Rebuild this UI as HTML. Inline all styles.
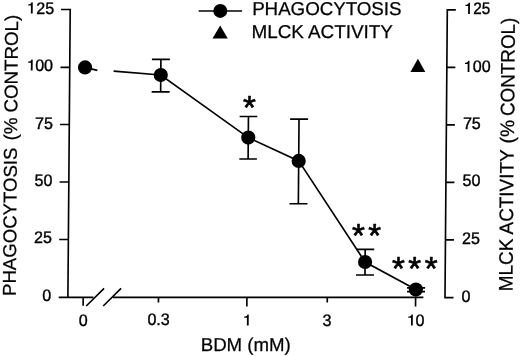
<!DOCTYPE html>
<html><head><meta charset="utf-8">
<style>
html,body{margin:0;padding:0;background:#fff;}
body{width:520px;height:356px;overflow:hidden;}
svg{display:block;filter:grayscale(1) blur(0.35px);}
text{font-family:"Liberation Sans",sans-serif;fill:#000;stroke:#000;stroke-width:0.25px;}
.t{font-size:16.6px;}
.t text{stroke-width:0.4px;}
.l{font-size:18.6px;}
.a{font-size:33.5px;stroke-width:0.6px;stroke-linejoin:round;}
.ln{stroke:#000;stroke-width:1.65;fill:none;}
</style></head><body>
<svg width="520" height="356" viewBox="0 0 520 356">
<rect width="520" height="356" fill="#fff"/>
<g transform="translate(0,297.3) skewX(-0.46) translate(0,-297.3)">
<path class="ln" d="M58.7,9.5H67.9V297.3 M58.7,67.4H67.9 M58.7,124.5H67.9 M58.7,182H67.9 M58.7,239.5H67.9 M58.7,297.3H93.5 M113,297.3H423.4"/>
<path class="ln" d="M453.5,9.8H445V297.6H453.5 M445,67.3H453.5 M445,124.8H453.5 M445,182.3H453.5 M445,239.8H453.5"/>
<path class="ln" d="M83.2,297.3V305.8 M158.5,297.3V302.5 M246.9,297.3V306.4 M327.3,297.3V302.5 M415.6,297.3V306.4"/>
<path class="ln" d="M86.3,306L104,288.3 M103.3,306L121,288.3"/>
<path class="ln" d="M83.2,67.4L95.5,70.4 M111.8,71.1L159,75L247,137.6L297.6,160.9L364.8,262.0L415.8,289.6"/>
<path class="ln" d="M159,59.3V91.9 M150,59.3H168 M150,91.9H168"/>
<path class="ln" d="M247,116.5V159 M238.2,116.5H255.8 M238.2,159H255.8"/>
<path class="ln" d="M297.6,119.1V203.7 M288.7,119.1H306.7 M288.7,203.7H306.7"/>
<path class="ln" d="M364.8,249.3V275 M355.8,249.3H373.8 M355.8,275H373.8"/>
<path class="ln" d="M407,287.8H425 M407,291.6H425"/>
<g fill="#000">
<circle cx="83.2" cy="67.4" r="7.1"/>
<circle cx="159" cy="75" r="7.1"/>
<circle cx="247" cy="137.6" r="7.1"/>
<circle cx="297.6" cy="160.9" r="7.1"/>
<circle cx="364.8" cy="262.0" r="7.1"/>
<circle cx="415.8" cy="289.6" r="7.1"/>
<path d="M408.6,71.9L416.0,58.7L423.5,71.9Z"/>
</g>
<path class="ln" d="M196.4,11H239.8"/>
<circle cx="218" cy="10.9" r="7.0" fill="#000"/>
<path d="M210.4,38.5L218,25.6L225.7,38.5Z" fill="#000"/>
<text class="l" x="249.9" y="15.2" textLength="149.3" lengthAdjust="spacingAndGlyphs">PHAGOCYTOSIS</text>
<text class="l" x="249.5" y="37.8" textLength="141.2" lengthAdjust="spacingAndGlyphs">MLCK ACTIVITY</text>
<g class="t">
<path transform="translate(28.6,13.5)" d="M0,0H1.8V-11.2H0.55C0.3,-9.7 -0.9,-9.15 -2.7,-9.1V-7.9H0Z" fill="#000"/>
<text transform="translate(51.8,13.5) scale(0.965,1)" text-anchor="end">25</text>
<path transform="translate(29.0,70.6)" d="M0,0H1.8V-11.2H0.55C0.3,-9.7 -0.9,-9.15 -2.7,-9.1V-7.9H0Z" fill="#000"/>
<text transform="translate(51.2,70.6) scale(0.965,1)" text-anchor="end">00</text>
<text transform="translate(51.5,128.7) scale(0.965,1)" text-anchor="end">75</text>
<text transform="translate(51.5,186.0) scale(0.965,1)" text-anchor="end">50</text>
<text transform="translate(51.4,243.2) scale(0.965,1)" text-anchor="end">25</text>
<text transform="translate(51.3,300.5) scale(0.965,1)" text-anchor="end">0</text>
<path transform="translate(465.8,13.9)" d="M0,0H1.8V-11.2H0.55C0.3,-9.7 -0.9,-9.15 -2.7,-9.1V-7.9H0Z" fill="#000"/>
<text transform="translate(471.0,13.9) scale(0.915,1)" text-anchor="start">25</text>
<path transform="translate(465.8,71.9)" d="M0,0H1.8V-11.2H0.55C0.3,-9.7 -0.9,-9.15 -2.7,-9.1V-7.9H0Z" fill="#000"/>
<text transform="translate(471.0,71.9) scale(0.965,1)" text-anchor="start">00</text>
<text transform="translate(461.6,129.4) scale(0.965,1)" text-anchor="start">75</text>
<text transform="translate(461.6,186.1) scale(0.965,1)" text-anchor="start">50</text>
<text transform="translate(461.6,244.0) scale(0.965,1)" text-anchor="start">25</text>
<text transform="translate(461.6,301.6) scale(0.965,1)" text-anchor="start">0</text>
<text transform="translate(83.4,326.0) scale(0.965,1)" text-anchor="middle">0</text>
<text transform="translate(158.8,325.2) scale(0.965,1)" text-anchor="middle">0.3</text>
<path transform="translate(247.1,325.6)" d="M0,0H1.8V-11.2H0.55C0.3,-9.7 -0.9,-9.15 -2.7,-9.1V-7.9H0Z" fill="#000"/>
<text transform="translate(327.3,325.8) scale(0.965,1)" text-anchor="middle">3</text>
<path transform="translate(411.2,325.6)" d="M0,0H1.8V-11.2H0.55C0.3,-9.7 -0.9,-9.15 -2.7,-9.1V-7.9H0Z" fill="#000"/>
<text transform="translate(420.2,325.6) scale(0.965,1)" text-anchor="middle">0</text>
</g>
<text class="l" x="201.2" y="350.8">BDM (mM)</text>
<text class="l" transform="translate(15.7,296) rotate(-90)">PHAGOCYTOSIS</text>
<text class="l" transform="translate(15.8,140.5) rotate(-90)" textLength="23.1" lengthAdjust="spacingAndGlyphs">(%</text>
<text class="l" transform="translate(15.8,112.6) rotate(-90)" textLength="97.9" lengthAdjust="spacingAndGlyphs">CONTROL)</text>
<text class="l" transform="translate(512.4,291.3) rotate(-90) scale(1,1.05)" textLength="142" lengthAdjust="spacingAndGlyphs">MLCK ACTIVITY</text>
<text class="l" transform="translate(512.7,143.4) rotate(-90) scale(1,1.05)" textLength="23.6" lengthAdjust="spacingAndGlyphs">(%</text>
<text class="l" transform="translate(512.7,116.1) rotate(-90) scale(1,1.05)" textLength="98.5" lengthAdjust="spacingAndGlyphs">CONTROL)</text>
<g text-anchor="middle">
<text class="a" x="247.9" y="119.0">*</text>
<text class="a" x="357.8" y="247.4">*</text>
<text class="a" x="374.1" y="247.4">*</text>
<text class="a" x="398.2" y="280.5">*</text>
<text class="a" x="414.5" y="280.5">*</text>
<text class="a" x="430.8" y="280.5">*</text>
</g>
</g>
</svg>
</body></html>
